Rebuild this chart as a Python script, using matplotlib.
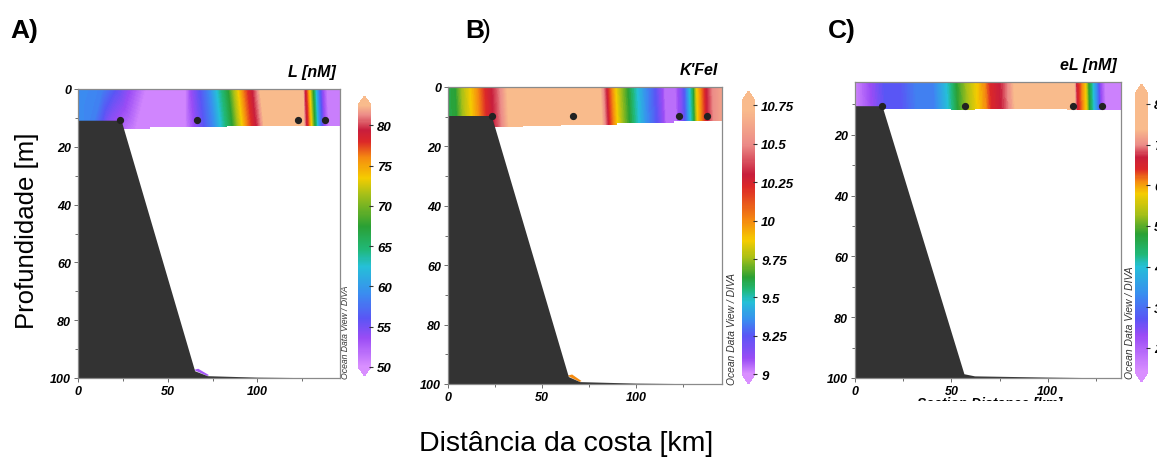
import numpy as np
import matplotlib
matplotlib.use('Agg')
import matplotlib.pyplot as plt
import matplotlib.tri as mtri
from matplotlib.colors import LinearSegmentedColormap, Normalize
from matplotlib.cm import ScalarMappable
from matplotlib.transforms import Bbox, TransformedBbox

plt.rcParams['font.family'] = ['Liberation Sans', 'DejaVu Sans']

W, H = 1157, 460

# ODV palette, same colours for every panel; where they sit on the value axis differs
odv_colors = ['#d98fff', '#9a4cf5', '#5a55f5', '#3a8cf0', '#25c0d8', '#20b878',
              '#2aa034', '#a8c018', '#f5cc00', '#f58a10', '#dc2828', '#c81e3c',
              '#ec8c88', '#f9bb8c']

# ---- panel A : L [nM]
stopsA = [50, 53.5, 56, 59, 62.5, 64.5, 67.5, 71.5, 73.5, 76, 78, 79.5, 81.3, 82.5]
limA = (50, 82.5)
ticksA = [50, 55, 60, 65, 70, 75, 80]
valsA = [59, 58.5, 56, 53.5, 50.5, 50.5, 53.5, 56, 59, 62.5, 65, 67.5, 71.5, 73.5, 76, 78,
         79.5, 81.3, 83, 83, 79, 76, 72, 67, 62, 58, 54, 51, 51]
topA = [0, 13, 21, 29, 38, 60, 63, 68, 73.5, 77.5, 81, 84, 87, 89.5, 92, 95,
        97.5, 100, 102.5, 125, 126.5, 128, 129.5, 131, 132.5, 134, 136, 138.5, 146]
botA = [0, 7, 12, 17, 32, 60, 65, 70.5, 76, 80, 83.5, 86.5, 89.5, 92, 94.5, 97.5,
        100, 102.5, 105, 125.5, 127.5, 129, 130.5, 132, 133.5, 135, 137, 139.5, 146]
bandA_x = [0, 40, 67, 83, 146]
bandA_d = [13.8, 13.3, 13.0, 12.7, 12.7]
stationsA = [23.5, 66.5, 122.5, 137.5]
bathyA_x = [0, 24, 65, 72, 100, 146]
bathyA_d = [10.8, 10.8, 97.5, 99.2, 99.7, 100]
toeA = 53

# ---- panel B : K'FeL
stopsB = [9.0, 9.1, 9.25, 9.35, 9.47, 9.55, 9.63, 9.76, 9.87, 10.0, 10.22, 10.3, 10.5, 10.72]
limB = (9.0, 10.78)
ticksB = [9, 9.25, 9.5, 9.75, 10, 10.25, 10.5, 10.75]
valsB = [9.6, 9.63, 9.76, 9.87, 10.0, 10.22, 10.3, 10.4, 10.55, 10.8, 10.8, 10.55, 10.25,
         10.0, 9.87, 9.76, 9.63, 9.47, 9.35, 9.25, 9.05, 9.05, 9.15, 9.3, 9.45, 9.6, 9.87,
         10.0, 10.25, 10.5, 10.6]
topB = [0, 4, 7.5, 12, 16, 20, 23.5, 26, 29, 33, 80, 82, 84.5, 87, 89, 91.5, 95.5,
        100.5, 105, 110, 115, 121, 124, 126.5, 128.5, 130.5, 132.5, 134.5, 137, 141, 146]
botB = [0, 5, 8.5, 13, 17, 21, 24.5, 27, 30, 34, 81, 83, 85.5, 88, 90, 92.5, 96.5,
        101.5, 106, 111, 116, 121.5, 124.5, 127, 129, 131, 133, 135, 137.5, 141.5, 146]
bandB_x = [0, 40, 60, 90, 120, 146]
bandB_d = [13.5, 13.2, 12.8, 12.2, 11.6, 11.6]
stationsB = [23.4, 66.5, 122.9, 137.8]
bathyB_x = [0, 23, 64, 70, 100, 146]
bathyB_d = [9.6, 9.6, 97.5, 99.2, 99.7, 100]
toeB = 10.0

# ---- panel C : eL [nM]
stopsC = [14, 23, 27, 33, 40, 43, 48, 53, 58, 61, 64, 67, 70, 74]
limC = (14, 82.5)
ticksC = [20, 30, 40, 50, 60, 70, 80]
valsC = [15, 23, 27, 27, 32, 32, 36, 40, 43, 48, 53, 58, 61, 64, 66, 68, 71, 76, 76,
         65, 61, 58, 48, 40, 33, 24, 16, 16]
topC = [0, 7.8, 14.7, 23, 32, 40.6, 44, 47.5, 50, 52.7, 57.9, 63, 67.4, 70, 73.4, 76.9,
        80.3, 83.8, 113, 114.9, 117.4, 119.2, 120.9, 123.2, 125, 126.9, 129.5, 138]
botC = [0, 9, 16, 24, 33, 41.5, 45, 48.5, 51, 53.7, 58.9, 64, 68.4, 71, 74.4, 77.9,
        81.3, 84.8, 113.5, 115.4, 117.9, 119.7, 121.4, 123.7, 125.5, 127.4, 130, 138]
bandC_x = [0, 50, 62, 110, 138]
bandC_d = [11.6, 11.9, 11.5, 11.8, 11.6]
stationsC = [14, 57, 113, 128]
bathyC_x = [0, 14, 56.5, 62, 100, 138]
bathyC_d = [10.4, 10.4, 98.6, 99.3, 99.7, 100]


def px_rect(x0, y0, x1, y1):
    return [x0 / W, 1 - y1 / H, (x1 - x0) / W, (y1 - y0) / H]


def odv_cmap(stops, lim):
    pos = np.clip((np.array(stops) - lim[0]) / (lim[1] - lim[0]), 0, 1)
    pos = np.r_[0, pos, 1]
    cols = [odv_colors[0]] + odv_colors + [odv_colors[-1]]
    return LinearSegmentedColormap.from_list('odv', list(zip(pos, cols)))


def panel(rect, cbrect, xmax, ytop, yticks, vals, top, bot, band_x, band_d, stops, lim,
          cticks, stations, stn_d, bathy_x, bathy_d, title, odv_size, odv_dx,
          toe=None, toe_poly=None):
    ax = fig.add_axes(px_rect(*rect))
    cmap = odv_cmap(stops, lim)
    norm = Normalize(*lim)

    deep = max(band_d) + 0.5
    tri = mtri.Triangulation(np.r_[top, bot], np.r_[np.zeros(len(top)), np.full(len(bot), deep)])
    ax.tricontourf(tri, np.r_[vals, vals], levels=np.linspace(lim[0], lim[1], 160),
                   cmap=cmap, norm=norm, extend='both', antialiased=False, zorder=1)
    ax.fill_between(band_x, band_d, deep + 5, step='post', color='white', lw=0, zorder=2)

    if toe is not None:
        ax.fill(toe_poly[0], toe_poly[1], color=cmap(norm(toe)), lw=0, zorder=2.5)
    ax.fill_between(bathy_x, bathy_d, 100, color='#333333', lw=0, zorder=3)
    ax.plot(stations, [stn_d] * len(stations), 'o', color='#222222', ms=4.2, zorder=4)

    ax.set_xlim(0, xmax)
    ax.set_ylim(100, ytop)
    ax.set_xticks([0, 50, 100])
    ax.set_xticks([25, 75, 125], minor=True)
    ax.set_yticks(yticks)
    ax.set_yticks(np.arange(10, 100, 20), minor=True)
    for lab in ax.get_xticklabels() + ax.get_yticklabels():
        lab.set_fontweight('bold')
        lab.set_fontstyle('italic')
        lab.set_fontsize(9)
    ax.tick_params(which='major', length=3, width=0.6, color='#555555', pad=2)
    ax.tick_params(which='minor', length=2, width=0.6, color='#555555')
    for s in ax.spines.values():
        s.set_color('#8a8a8a')
        s.set_linewidth(0.9)
        s.set_zorder(5)
    ax.text(0.985, 1.035, title, transform=ax.transAxes, ha='right', va='bottom',
            fontsize=11.5, fontweight='bold', fontstyle='italic')
    x0, y0, x1, y1 = rect
    ax.text((x1 + odv_dx) / W, 1 - y1 / H, 'Ocean Data View / DIVA', transform=fig.transFigure,
            rotation=90, ha='center', va='bottom', fontsize=odv_size, fontstyle='italic',
            color='#333333')

    cax = fig.add_axes(px_rect(*cbrect))
    cb = fig.colorbar(ScalarMappable(norm=norm, cmap=cmap), cax=cax, extend='both',
                      extendfrac=0.035, ticks=cticks)
    cb.outline.set_visible(False)
    cb.set_ticklabels(['%g' % t for t in cticks])
    cax.tick_params(length=3, width=0.8, color='#333333', direction='inout', pad=3)
    for lab in cax.get_yticklabels():
        lab.set_fontweight('bold')
        lab.set_fontstyle('italic')
        lab.set_fontsize(9.5)
    return ax


fig = plt.figure(figsize=(W / 100, H / 100), dpi=100)

panel((78, 90, 340, 379), (358, 97, 371, 377), 146, 0, [0, 20, 40, 60, 80, 100],
      valsA, topA, botA, bandA_x, bandA_d, stopsA, limA, ticksA, stationsA, 10.6,
      bathyA_x, bathyA_d, 'L [nM]', 6.2, 5,
      toeA, ([64.5, 67, 73, 72], [97.2, 96.8, 99.0, 99.3]))
panel((448, 88, 722, 385), (742, 92, 755, 385), 145.7, 0, [0, 20, 40, 60, 80, 100],
      valsB, topB, botB, bandB_x, bandB_d, stopsB, limB, ticksB, stationsB, 9.8,
      bathyB_x, bathyB_d, "K'FeI", 7.4, 10,
      toeB, ([63.5, 66, 71, 70], [97.2, 96.8, 99.0, 99.3]))
panel((855, 83, 1121, 379), (1135, 85, 1148, 383), 138, 2.6, [20, 40, 60, 80, 100],
      valsC, topC, botC, bandC_x, bandC_d, stopsC, limC, ticksC, stationsC, 10.4,
      bathyC_x, bathyC_d, 'eL [nM]', 7.5, 9)

# x label of panel C, cut off by the original crop
t = fig.text(990 / W, 1 - 397 / H, 'Section Distance [km]', ha='center', va='top',
             fontsize=10, fontweight='bold', fontstyle='italic')
t.set_clip_box(TransformedBbox(Bbox([[0, 1 - 402 / H], [1, 1]]), fig.transFigure))
t.set_clip_on(True)

fig.text(10 / W, 1 - 31 / H, 'A)', fontsize=19, fontweight='bold', va='center')
fig.text(465 / W, 1 - 31 / H, 'B', fontsize=19, fontweight='bold', va='center')
fig.text(482 / W, 1 - 31 / H, ')', fontsize=19, va='center')
fig.text(828 / W, 1 - 31 / H, 'C)', fontsize=19, fontweight='bold', va='center')
fig.text(27 / W, 1 - 231 / H, 'Profundidade [m]', rotation=90, fontsize=18.5,
         ha='center', va='center')
fig.text(566 / W, 1 - 451 / H, 'Distância da costa [km]', fontsize=20.5,
         ha='center', va='baseline')

fig.savefig('out.png', dpi=100)
